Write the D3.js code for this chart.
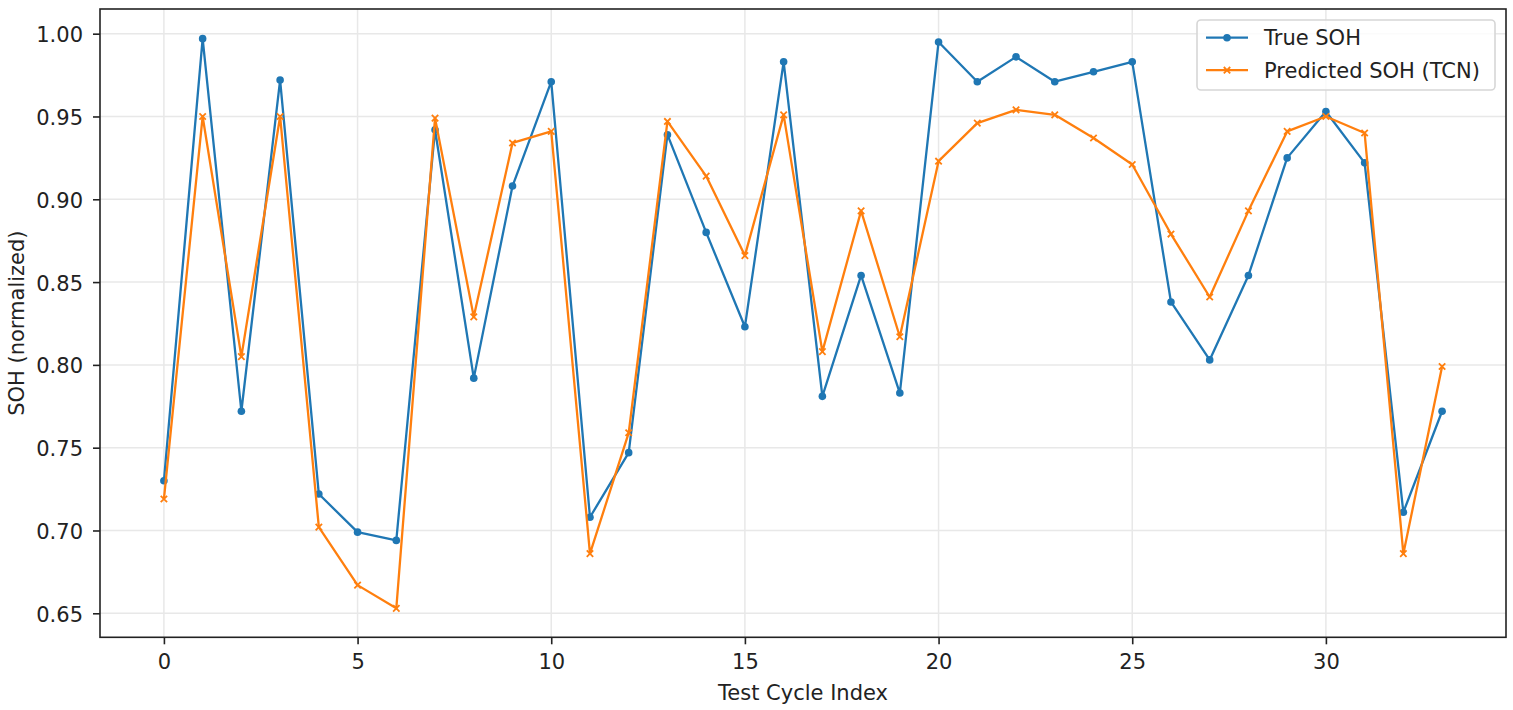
<!DOCTYPE html>
<html>
<head>
<meta charset="utf-8">
<script src="https://d3js.org/d3.v7.min.js"></script>
<style>
  body { margin: 0; background: #fff; }
  text { font-family: "DejaVu Sans", sans-serif; fill: #222; }
</style>
</head>
<body>
<svg width="1513" height="710"></svg>
<script>
// test cycle index and SOH values
var cycles = d3.range(0, 34);
var trueSOH = [0.730, 0.997, 0.772, 0.972, 0.722, 0.699, 0.694, 0.942, 0.792, 0.908,
               0.971, 0.708, 0.747, 0.939, 0.880, 0.823, 0.983, 0.781, 0.854, 0.783,
               0.995, 0.971, 0.986, 0.971, 0.977, 0.983, 0.838, 0.803, 0.854, 0.925,
               0.953, 0.922, 0.711, 0.772];
var predSOH = [0.719, 0.950, 0.805, 0.950, 0.702, 0.667, 0.653, 0.949, 0.829, 0.934,
               0.941, 0.686, 0.759, 0.947, 0.914, 0.866, 0.951, 0.808, 0.893, 0.817,
               0.923, 0.946, 0.954, 0.951, 0.937, 0.921, 0.879, 0.841, 0.893, 0.941,
               0.950, 0.940, 0.686, 0.799];
var xTicks = [0, 5, 10, 15, 20, 25, 30];
var yTicks = [0.65, 0.70, 0.75, 0.80, 0.85, 0.90, 0.95, 1.00];
var seriesNames = ["True SOH", "Predicted SOH (TCN)"];

function main() {
    var svg = d3.select("svg");
    var left = 100, right = 1506, top = 9, bottom = 637.3;
    var fontSize = "21px";

    var xScale = d3.scaleLinear().domain([-1.65, 34.65]).range([left, right]);
    var yScale = d3.scaleLinear().domain([0.6355, 1.0149]).range([bottom, top]);

    // grid lines
    svg.append("g").selectAll("line.vgrid")
        .data(xTicks).enter().append("line")
        .attr("x1", d => xScale(d)).attr("x2", d => xScale(d))
        .attr("y1", top).attr("y2", bottom)
        .attr("stroke", "#e8e8e8").attr("stroke-width", 1.5);
    svg.append("g").selectAll("line.hgrid")
        .data(yTicks).enter().append("line")
        .attr("x1", left).attr("x2", right)
        .attr("y1", d => yScale(d)).attr("y2", d => yScale(d))
        .attr("stroke", "#e8e8e8").attr("stroke-width", 1.5);

    // axes
    var xAxis = svg.append("g").attr("transform", "translate(0," + bottom + ")")
        .call(d3.axisBottom(xScale).tickValues(xTicks).tickSize(7).tickPadding(10).tickSizeOuter(0));
    var yAxis = svg.append("g").attr("transform", "translate(" + left + ",0)")
        .call(d3.axisLeft(yScale).tickValues(yTicks).tickFormat(d3.format(".2f")).tickSize(7).tickPadding(10).tickSizeOuter(0));
    [xAxis, yAxis].forEach(function (a) {
        a.select(".domain").remove();
        a.selectAll(".tick line").attr("stroke", "#222").attr("stroke-width", 1.6);
        a.selectAll(".tick text").attr("font-size", fontSize).attr("fill", "#222")
            .style("font-family", "DejaVu Sans");
    });
    yAxis.selectAll(".tick text").attr("dy", "0.38em");
    xAxis.selectAll(".tick text").attr("dy", "0.68em");

    // frame
    svg.append("rect")
        .attr("x", left).attr("y", top)
        .attr("width", right - left).attr("height", bottom - top)
        .attr("fill", "none").attr("stroke", "#222").attr("stroke-width", 1.6);

    // axis labels
    svg.append("text")
        .attr("x", (left + right) / 2).attr("y", 700)
        .attr("text-anchor", "middle").attr("font-size", fontSize)
        .text("Test Cycle Index");
    svg.append("text")
        .attr("transform", "translate(24," + (top + bottom) / 2 + ") rotate(-90)")
        .attr("text-anchor", "middle").attr("font-size", fontSize)
        .text("SOH (normalized)");

    var line = d3.line()
        .x(function (d, i) { return xScale(cycles[i]); })
        .y(function (d) { return yScale(d); });

    // true SOH: blue line with dots
    svg.append("path").datum(trueSOH)
        .attr("d", line).attr("fill", "none")
        .attr("stroke", "#1f77b4").attr("stroke-width", 2.3)
        .attr("stroke-linejoin", "round");
    svg.append("g").selectAll("circle")
        .data(trueSOH).enter().append("circle")
        .attr("cx", function (d, i) { return xScale(cycles[i]); })
        .attr("cy", function (d) { return yScale(d); })
        .attr("r", 3.8).attr("fill", "#1f77b4");

    // predicted SOH: orange line with x markers
    svg.append("path").datum(predSOH)
        .attr("d", line).attr("fill", "none")
        .attr("stroke", "#ff7f0e").attr("stroke-width", 2.3)
        .attr("stroke-linejoin", "round");
    var s = 3.2;
    var xMark = "M" + (-s) + "," + (-s) + "L" + s + "," + s + "M" + (-s) + "," + s + "L" + s + "," + (-s);
    svg.append("g").selectAll("path.xm")
        .data(predSOH).enter().append("path")
        .attr("transform", function (d, i) { return "translate(" + xScale(cycles[i]) + "," + yScale(d) + ")"; })
        .attr("d", xMark)
        .attr("stroke", "#ff7f0e").attr("stroke-width", 1.8).attr("fill", "none");

    // legend
    var lg = svg.append("g");
    lg.append("rect")
        .attr("x", 1197).attr("y", 20).attr("width", 298).attr("height", 70).attr("rx", 4)
        .attr("fill", "white").attr("fill-opacity", 0.8)
        .attr("stroke", "#d6d6d6").attr("stroke-width", 1.6);
    var colors = ["#1f77b4", "#ff7f0e"];
    seriesNames.forEach(function (name, i) {
        var yy = 37.7 + i * 32.5;
        lg.append("line").attr("x1", 1206).attr("x2", 1248).attr("y1", yy).attr("y2", yy)
            .attr("stroke", colors[i]).attr("stroke-width", 2.3);
        if (i === 0) {
            lg.append("circle").attr("cx", 1227).attr("cy", yy).attr("r", 3.8).attr("fill", colors[i]);
        } else {
            lg.append("path").attr("transform", "translate(1227," + yy + ")")
                .attr("d", xMark)
                .attr("stroke", colors[i]).attr("stroke-width", 1.8);
        }
        lg.append("text").attr("x", 1264).attr("y", yy).attr("dy", "0.36em")
            .attr("font-size", fontSize).text(name);
    });
}
main();
</script>
</body>
</html>
